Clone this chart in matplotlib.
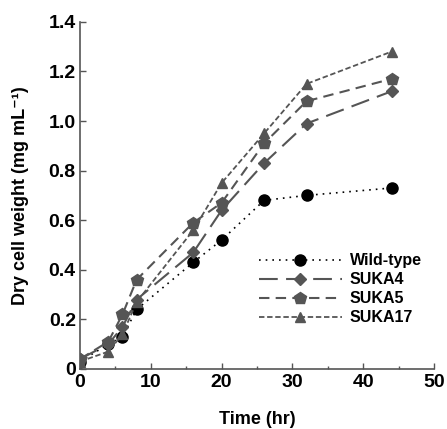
import numpy as np
import matplotlib
matplotlib.use('Agg')
import matplotlib.pyplot as plt
from matplotlib.ticker import MultipleLocator, FuncFormatter

plt.rcParams['font.family'] = ['Liberation Sans', 'DejaVu Sans']
plt.rcParams['font.weight'] = 'bold'

# data
time_hr = [0, 4, 6, 8, 16, 20, 26, 32, 44]
wild_type = [0.03, 0.10, 0.13, 0.24, 0.43, 0.52, 0.68, 0.70, 0.73]
suka4 = [0.04, 0.10, 0.17, 0.28, 0.47, 0.64, 0.83, 0.99, 1.12]
suka5 = [0.04, 0.11, 0.22, 0.36, 0.59, 0.67, 0.91, 1.08, 1.17]
suka17 = [0.03, 0.07, 0.14, 0.27, 0.56, 0.75, 0.95, 1.15, 1.28]

fig = plt.figure(figsize=(4.47, 4.29), dpi=100)
ax = fig.add_axes([0.179, 0.140, 0.792, 0.809])

gray = '#555555'
ax.plot(time_hr, wild_type, color='black', linestyle=(0, (1, 3)), linewidth=1.2,
        marker='o', markersize=8, label='Wild-type')
ax.plot(time_hr, suka4, color=gray, linestyle=(0, (9, 4)), linewidth=1.5,
        marker='D', markersize=6.5, label='SUKA4')
ax.plot(time_hr, suka5, color=gray, linestyle=(0, (5, 3)), linewidth=1.5,
        marker='p', markersize=9, label='SUKA5')
ax.plot(time_hr, suka17, color=gray, linestyle=(0, (3, 1.5)), linewidth=1.3,
        marker='^', markersize=7.5, label='SUKA17')

ax.set_xlim(0, 50)
ax.set_ylim(0, 1.4)
ax.xaxis.set_major_locator(MultipleLocator(10))
ax.xaxis.set_minor_locator(MultipleLocator(5))
ax.yaxis.set_major_locator(MultipleLocator(0.2))
ax.yaxis.set_major_formatter(FuncFormatter(lambda v, p: '0' if abs(v) < 1e-9 else f'{v:.1f}'))

for s in ['top', 'right']:
    ax.spines[s].set_visible(False)
for s in ['left', 'bottom']:
    ax.spines[s].set_color(gray)
    ax.spines[s].set_linewidth(1.2)

ax.tick_params(axis='both', which='major', direction='in', length=4, width=1, colors=gray,
               labelcolor='black', labelsize=14)
ax.tick_params(axis='x', which='major', pad=4)
ax.tick_params(axis='y', which='major', pad=3)
ax.tick_params(axis='x', which='minor', direction='in', length=2.5, width=1, colors=gray)
for lbl in ax.get_xticklabels() + ax.get_yticklabels():
    lbl.set_fontweight('bold')

ax.set_xlabel('Time (hr)', fontsize=13, fontweight='bold', labelpad=14)
ax.set_ylabel('Dry cell weight (mg mL\u207b\u00b9)', fontsize=13, fontweight='bold', labelpad=14)

leg = ax.legend(loc='upper left', bbox_to_anchor=(0.487, 0.352), frameon=False,
                fontsize=11.5, handlelength=5.2, handletextpad=0.5, labelspacing=0.25,
                borderaxespad=0)
for t in leg.get_texts():
    t.set_fontweight('bold')

fig.savefig('out.png', dpi=100)
